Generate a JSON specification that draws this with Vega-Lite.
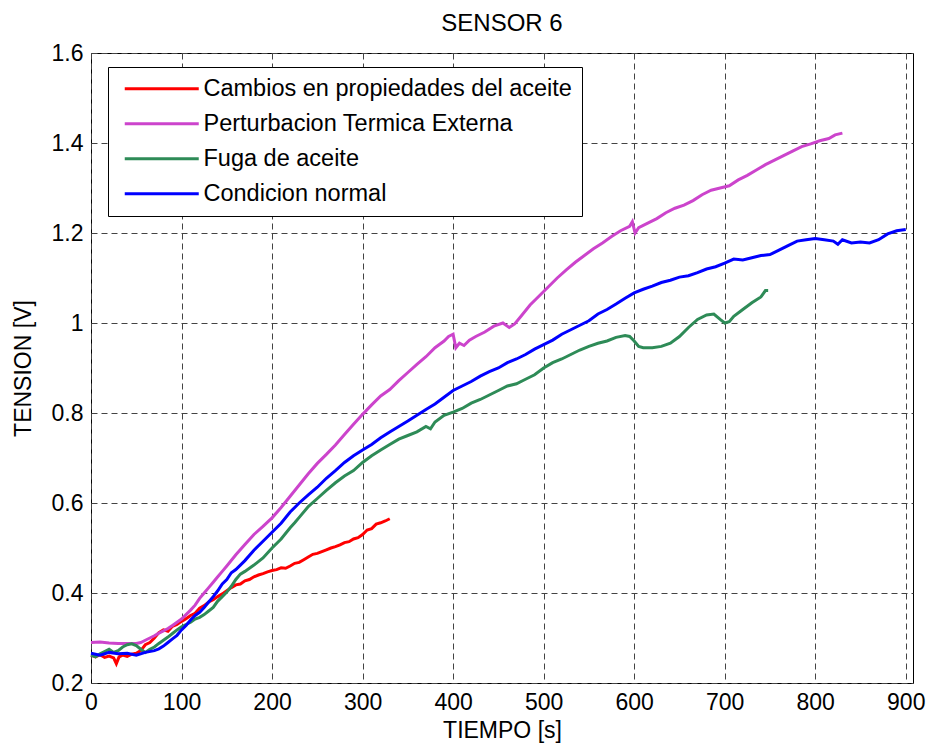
{
  "$schema": "https://vega.github.io/schema/vega-lite/v6.json",
  "width": 822,
  "height": 630,
  "autosize": {"type": "none"},
  "padding": {"left": 91, "top": 53, "right": 17, "bottom": 62},
  "background": "white",
  "config": {
    "font": "Liberation Sans",
    "view": {"stroke": "black", "strokeWidth": 1},
    "axis": {
      "domain": false,
      "ticks": false,
      "grid": true,
      "gridColor": "#444444",
      "gridDash": [6, 4],
      "gridWidth": 1,
      "gridOpacity": 1,
      "labelFont": "Liberation Sans",
      "labelFontSize": 23,
      "labelColor": "black",
      "labelFlush": false,
      "titleFont": "Liberation Sans",
      "titleFontSize": 23,
      "titleFontWeight": "normal",
      "titleColor": "black"
    },
    "title": {"font": "Liberation Sans", "fontSize": 24, "fontWeight": "normal", "color": "black"}
  },
  "title": {"text": "SENSOR 6", "offset": 6},
  "data": {
    "values": [
      {"s": "Cambios en propiedades del aceite", "t": 0, "v": 0.262},
      {"s": "Cambios en propiedades del aceite", "t": 5, "v": 0.258},
      {"s": "Cambios en propiedades del aceite", "t": 10, "v": 0.263},
      {"s": "Cambios en propiedades del aceite", "t": 15, "v": 0.257},
      {"s": "Cambios en propiedades del aceite", "t": 20, "v": 0.26},
      {"s": "Cambios en propiedades del aceite", "t": 25, "v": 0.256},
      {"s": "Cambios en propiedades del aceite", "t": 28, "v": 0.243},
      {"s": "Cambios en propiedades del aceite", "t": 31, "v": 0.258},
      {"s": "Cambios en propiedades del aceite", "t": 35, "v": 0.262},
      {"s": "Cambios en propiedades del aceite", "t": 40, "v": 0.259},
      {"s": "Cambios en propiedades del aceite", "t": 45, "v": 0.264},
      {"s": "Cambios en propiedades del aceite", "t": 50, "v": 0.266},
      {"s": "Cambios en propiedades del aceite", "t": 55, "v": 0.272},
      {"s": "Cambios en propiedades del aceite", "t": 60, "v": 0.285},
      {"s": "Cambios en propiedades del aceite", "t": 65, "v": 0.29},
      {"s": "Cambios en propiedades del aceite", "t": 70, "v": 0.3},
      {"s": "Cambios en propiedades del aceite", "t": 75, "v": 0.312},
      {"s": "Cambios en propiedades del aceite", "t": 80, "v": 0.318},
      {"s": "Cambios en propiedades del aceite", "t": 85, "v": 0.315},
      {"s": "Cambios en propiedades del aceite", "t": 90, "v": 0.326},
      {"s": "Cambios en propiedades del aceite", "t": 95, "v": 0.33},
      {"s": "Cambios en propiedades del aceite", "t": 100, "v": 0.337},
      {"s": "Cambios en propiedades del aceite", "t": 105, "v": 0.343},
      {"s": "Cambios en propiedades del aceite", "t": 110, "v": 0.35},
      {"s": "Cambios en propiedades del aceite", "t": 115, "v": 0.355},
      {"s": "Cambios en propiedades del aceite", "t": 120, "v": 0.366},
      {"s": "Cambios en propiedades del aceite", "t": 125, "v": 0.372},
      {"s": "Cambios en propiedades del aceite", "t": 130, "v": 0.38},
      {"s": "Cambios en propiedades del aceite", "t": 135, "v": 0.385},
      {"s": "Cambios en propiedades del aceite", "t": 140, "v": 0.392},
      {"s": "Cambios en propiedades del aceite", "t": 145, "v": 0.398},
      {"s": "Cambios en propiedades del aceite", "t": 150, "v": 0.405},
      {"s": "Cambios en propiedades del aceite", "t": 155, "v": 0.412},
      {"s": "Cambios en propiedades del aceite", "t": 160, "v": 0.418},
      {"s": "Cambios en propiedades del aceite", "t": 165, "v": 0.42},
      {"s": "Cambios en propiedades del aceite", "t": 170, "v": 0.427},
      {"s": "Cambios en propiedades del aceite", "t": 175, "v": 0.43},
      {"s": "Cambios en propiedades del aceite", "t": 180, "v": 0.436},
      {"s": "Cambios en propiedades del aceite", "t": 185, "v": 0.44},
      {"s": "Cambios en propiedades del aceite", "t": 190, "v": 0.443},
      {"s": "Cambios en propiedades del aceite", "t": 195, "v": 0.447},
      {"s": "Cambios en propiedades del aceite", "t": 200, "v": 0.45},
      {"s": "Cambios en propiedades del aceite", "t": 205, "v": 0.452},
      {"s": "Cambios en propiedades del aceite", "t": 210, "v": 0.456},
      {"s": "Cambios en propiedades del aceite", "t": 215, "v": 0.455},
      {"s": "Cambios en propiedades del aceite", "t": 220, "v": 0.46},
      {"s": "Cambios en propiedades del aceite", "t": 225, "v": 0.466},
      {"s": "Cambios en propiedades del aceite", "t": 230, "v": 0.468},
      {"s": "Cambios en propiedades del aceite", "t": 235, "v": 0.474},
      {"s": "Cambios en propiedades del aceite", "t": 240, "v": 0.48},
      {"s": "Cambios en propiedades del aceite", "t": 245, "v": 0.486},
      {"s": "Cambios en propiedades del aceite", "t": 250, "v": 0.488},
      {"s": "Cambios en propiedades del aceite", "t": 255, "v": 0.492},
      {"s": "Cambios en propiedades del aceite", "t": 260, "v": 0.496},
      {"s": "Cambios en propiedades del aceite", "t": 265, "v": 0.5},
      {"s": "Cambios en propiedades del aceite", "t": 270, "v": 0.503},
      {"s": "Cambios en propiedades del aceite", "t": 275, "v": 0.507},
      {"s": "Cambios en propiedades del aceite", "t": 280, "v": 0.512},
      {"s": "Cambios en propiedades del aceite", "t": 285, "v": 0.514},
      {"s": "Cambios en propiedades del aceite", "t": 290, "v": 0.52},
      {"s": "Cambios en propiedades del aceite", "t": 295, "v": 0.523},
      {"s": "Cambios en propiedades del aceite", "t": 300, "v": 0.53},
      {"s": "Cambios en propiedades del aceite", "t": 305, "v": 0.54},
      {"s": "Cambios en propiedades del aceite", "t": 310, "v": 0.543},
      {"s": "Cambios en propiedades del aceite", "t": 315, "v": 0.553},
      {"s": "Cambios en propiedades del aceite", "t": 320, "v": 0.556},
      {"s": "Cambios en propiedades del aceite", "t": 325, "v": 0.56},
      {"s": "Cambios en propiedades del aceite", "t": 330, "v": 0.565},

      {"s": "Perturbacion Termica Externa", "t": 0, "v": 0.29},
      {"s": "Perturbacion Termica Externa", "t": 10, "v": 0.291},
      {"s": "Perturbacion Termica Externa", "t": 20, "v": 0.289},
      {"s": "Perturbacion Termica Externa", "t": 30, "v": 0.288},
      {"s": "Perturbacion Termica Externa", "t": 40, "v": 0.288},
      {"s": "Perturbacion Termica Externa", "t": 50, "v": 0.288},
      {"s": "Perturbacion Termica Externa", "t": 55, "v": 0.29},
      {"s": "Perturbacion Termica Externa", "t": 60, "v": 0.295},
      {"s": "Perturbacion Termica Externa", "t": 65, "v": 0.3},
      {"s": "Perturbacion Termica Externa", "t": 70, "v": 0.305},
      {"s": "Perturbacion Termica Externa", "t": 75, "v": 0.311},
      {"s": "Perturbacion Termica Externa", "t": 80, "v": 0.316},
      {"s": "Perturbacion Termica Externa", "t": 85, "v": 0.321},
      {"s": "Perturbacion Termica Externa", "t": 90, "v": 0.328},
      {"s": "Perturbacion Termica Externa", "t": 95, "v": 0.335},
      {"s": "Perturbacion Termica Externa", "t": 100, "v": 0.342},
      {"s": "Perturbacion Termica Externa", "t": 105, "v": 0.352},
      {"s": "Perturbacion Termica Externa", "t": 110, "v": 0.362},
      {"s": "Perturbacion Termica Externa", "t": 115, "v": 0.373},
      {"s": "Perturbacion Termica Externa", "t": 120, "v": 0.388},
      {"s": "Perturbacion Termica Externa", "t": 125, "v": 0.4},
      {"s": "Perturbacion Termica Externa", "t": 130, "v": 0.412},
      {"s": "Perturbacion Termica Externa", "t": 135, "v": 0.424},
      {"s": "Perturbacion Termica Externa", "t": 140, "v": 0.436},
      {"s": "Perturbacion Termica Externa", "t": 145, "v": 0.448},
      {"s": "Perturbacion Termica Externa", "t": 150, "v": 0.46},
      {"s": "Perturbacion Termica Externa", "t": 160, "v": 0.485},
      {"s": "Perturbacion Termica Externa", "t": 170, "v": 0.508},
      {"s": "Perturbacion Termica Externa", "t": 180, "v": 0.53},
      {"s": "Perturbacion Termica Externa", "t": 190, "v": 0.548},
      {"s": "Perturbacion Termica Externa", "t": 200, "v": 0.567},
      {"s": "Perturbacion Termica Externa", "t": 210, "v": 0.59},
      {"s": "Perturbacion Termica Externa", "t": 220, "v": 0.615},
      {"s": "Perturbacion Termica Externa", "t": 230, "v": 0.64},
      {"s": "Perturbacion Termica Externa", "t": 240, "v": 0.665},
      {"s": "Perturbacion Termica Externa", "t": 250, "v": 0.688},
      {"s": "Perturbacion Termica Externa", "t": 260, "v": 0.708},
      {"s": "Perturbacion Termica Externa", "t": 270, "v": 0.729},
      {"s": "Perturbacion Termica Externa", "t": 280, "v": 0.752},
      {"s": "Perturbacion Termica Externa", "t": 290, "v": 0.775},
      {"s": "Perturbacion Termica Externa", "t": 300, "v": 0.797},
      {"s": "Perturbacion Termica Externa", "t": 310, "v": 0.818},
      {"s": "Perturbacion Termica Externa", "t": 320, "v": 0.838},
      {"s": "Perturbacion Termica Externa", "t": 330, "v": 0.852},
      {"s": "Perturbacion Termica Externa", "t": 340, "v": 0.872},
      {"s": "Perturbacion Termica Externa", "t": 350, "v": 0.89},
      {"s": "Perturbacion Termica Externa", "t": 360, "v": 0.908},
      {"s": "Perturbacion Termica Externa", "t": 370, "v": 0.925},
      {"s": "Perturbacion Termica Externa", "t": 380, "v": 0.945},
      {"s": "Perturbacion Termica Externa", "t": 390, "v": 0.96},
      {"s": "Perturbacion Termica Externa", "t": 395, "v": 0.97},
      {"s": "Perturbacion Termica Externa", "t": 400, "v": 0.975},
      {"s": "Perturbacion Termica Externa", "t": 403, "v": 0.945},
      {"s": "Perturbacion Termica Externa", "t": 407, "v": 0.955},
      {"s": "Perturbacion Termica Externa", "t": 412, "v": 0.95},
      {"s": "Perturbacion Termica Externa", "t": 418, "v": 0.962},
      {"s": "Perturbacion Termica Externa", "t": 425, "v": 0.97},
      {"s": "Perturbacion Termica Externa", "t": 435, "v": 0.98},
      {"s": "Perturbacion Termica Externa", "t": 445, "v": 0.993},
      {"s": "Perturbacion Termica Externa", "t": 455, "v": 1.0},
      {"s": "Perturbacion Termica Externa", "t": 462, "v": 0.99},
      {"s": "Perturbacion Termica Externa", "t": 468, "v": 0.998},
      {"s": "Perturbacion Termica Externa", "t": 475, "v": 1.015},
      {"s": "Perturbacion Termica Externa", "t": 485, "v": 1.04},
      {"s": "Perturbacion Termica Externa", "t": 495, "v": 1.06},
      {"s": "Perturbacion Termica Externa", "t": 505, "v": 1.08},
      {"s": "Perturbacion Termica Externa", "t": 515, "v": 1.1},
      {"s": "Perturbacion Termica Externa", "t": 525, "v": 1.118},
      {"s": "Perturbacion Termica Externa", "t": 535, "v": 1.135},
      {"s": "Perturbacion Termica Externa", "t": 545, "v": 1.15},
      {"s": "Perturbacion Termica Externa", "t": 555, "v": 1.165},
      {"s": "Perturbacion Termica Externa", "t": 565, "v": 1.178},
      {"s": "Perturbacion Termica Externa", "t": 575, "v": 1.192},
      {"s": "Perturbacion Termica Externa", "t": 585, "v": 1.205},
      {"s": "Perturbacion Termica Externa", "t": 595, "v": 1.215},
      {"s": "Perturbacion Termica Externa", "t": 598, "v": 1.225},
      {"s": "Perturbacion Termica Externa", "t": 601, "v": 1.2},
      {"s": "Perturbacion Termica Externa", "t": 605, "v": 1.212},
      {"s": "Perturbacion Termica Externa", "t": 615, "v": 1.222},
      {"s": "Perturbacion Termica Externa", "t": 625, "v": 1.232},
      {"s": "Perturbacion Termica Externa", "t": 635, "v": 1.245},
      {"s": "Perturbacion Termica Externa", "t": 645, "v": 1.255},
      {"s": "Perturbacion Termica Externa", "t": 655, "v": 1.262},
      {"s": "Perturbacion Termica Externa", "t": 665, "v": 1.272},
      {"s": "Perturbacion Termica Externa", "t": 675, "v": 1.285},
      {"s": "Perturbacion Termica Externa", "t": 685, "v": 1.295},
      {"s": "Perturbacion Termica Externa", "t": 695, "v": 1.3},
      {"s": "Perturbacion Termica Externa", "t": 705, "v": 1.305},
      {"s": "Perturbacion Termica Externa", "t": 715, "v": 1.318},
      {"s": "Perturbacion Termica Externa", "t": 725, "v": 1.328},
      {"s": "Perturbacion Termica Externa", "t": 735, "v": 1.34},
      {"s": "Perturbacion Termica Externa", "t": 745, "v": 1.352},
      {"s": "Perturbacion Termica Externa", "t": 755, "v": 1.362},
      {"s": "Perturbacion Termica Externa", "t": 765, "v": 1.372},
      {"s": "Perturbacion Termica Externa", "t": 775, "v": 1.382},
      {"s": "Perturbacion Termica Externa", "t": 785, "v": 1.392},
      {"s": "Perturbacion Termica Externa", "t": 795, "v": 1.398},
      {"s": "Perturbacion Termica Externa", "t": 805, "v": 1.405},
      {"s": "Perturbacion Termica Externa", "t": 815, "v": 1.41},
      {"s": "Perturbacion Termica Externa", "t": 822, "v": 1.418},
      {"s": "Perturbacion Termica Externa", "t": 830, "v": 1.422},

      {"s": "Fuga de aceite", "t": 0, "v": 0.262},
      {"s": "Fuga de aceite", "t": 5, "v": 0.258},
      {"s": "Fuga de aceite", "t": 10, "v": 0.265},
      {"s": "Fuga de aceite", "t": 15, "v": 0.27},
      {"s": "Fuga de aceite", "t": 20, "v": 0.275},
      {"s": "Fuga de aceite", "t": 25, "v": 0.268},
      {"s": "Fuga de aceite", "t": 30, "v": 0.272},
      {"s": "Fuga de aceite", "t": 35, "v": 0.28},
      {"s": "Fuga de aceite", "t": 40, "v": 0.285},
      {"s": "Fuga de aceite", "t": 45, "v": 0.287},
      {"s": "Fuga de aceite", "t": 50, "v": 0.283},
      {"s": "Fuga de aceite", "t": 55, "v": 0.275},
      {"s": "Fuga de aceite", "t": 60, "v": 0.268},
      {"s": "Fuga de aceite", "t": 65, "v": 0.275},
      {"s": "Fuga de aceite", "t": 70, "v": 0.28},
      {"s": "Fuga de aceite", "t": 75, "v": 0.288},
      {"s": "Fuga de aceite", "t": 80, "v": 0.295},
      {"s": "Fuga de aceite", "t": 85, "v": 0.302},
      {"s": "Fuga de aceite", "t": 90, "v": 0.31},
      {"s": "Fuga de aceite", "t": 95, "v": 0.318},
      {"s": "Fuga de aceite", "t": 100, "v": 0.325},
      {"s": "Fuga de aceite", "t": 105, "v": 0.33},
      {"s": "Fuga de aceite", "t": 110, "v": 0.335},
      {"s": "Fuga de aceite", "t": 115, "v": 0.342},
      {"s": "Fuga de aceite", "t": 120, "v": 0.346},
      {"s": "Fuga de aceite", "t": 125, "v": 0.352},
      {"s": "Fuga de aceite", "t": 130, "v": 0.36},
      {"s": "Fuga de aceite", "t": 135, "v": 0.368},
      {"s": "Fuga de aceite", "t": 140, "v": 0.382},
      {"s": "Fuga de aceite", "t": 145, "v": 0.392},
      {"s": "Fuga de aceite", "t": 150, "v": 0.402},
      {"s": "Fuga de aceite", "t": 155, "v": 0.415},
      {"s": "Fuga de aceite", "t": 160, "v": 0.43},
      {"s": "Fuga de aceite", "t": 165, "v": 0.442},
      {"s": "Fuga de aceite", "t": 170, "v": 0.448},
      {"s": "Fuga de aceite", "t": 175, "v": 0.455},
      {"s": "Fuga de aceite", "t": 180, "v": 0.462},
      {"s": "Fuga de aceite", "t": 190, "v": 0.478},
      {"s": "Fuga de aceite", "t": 200, "v": 0.5},
      {"s": "Fuga de aceite", "t": 210, "v": 0.52},
      {"s": "Fuga de aceite", "t": 220, "v": 0.545},
      {"s": "Fuga de aceite", "t": 225, "v": 0.556},
      {"s": "Fuga de aceite", "t": 230, "v": 0.568},
      {"s": "Fuga de aceite", "t": 240, "v": 0.592},
      {"s": "Fuga de aceite", "t": 250, "v": 0.61},
      {"s": "Fuga de aceite", "t": 260, "v": 0.628},
      {"s": "Fuga de aceite", "t": 270, "v": 0.645},
      {"s": "Fuga de aceite", "t": 280, "v": 0.66},
      {"s": "Fuga de aceite", "t": 290, "v": 0.672},
      {"s": "Fuga de aceite", "t": 300, "v": 0.69},
      {"s": "Fuga de aceite", "t": 310, "v": 0.705},
      {"s": "Fuga de aceite", "t": 320, "v": 0.718},
      {"s": "Fuga de aceite", "t": 330, "v": 0.73},
      {"s": "Fuga de aceite", "t": 340, "v": 0.742},
      {"s": "Fuga de aceite", "t": 350, "v": 0.75},
      {"s": "Fuga de aceite", "t": 360, "v": 0.758},
      {"s": "Fuga de aceite", "t": 370, "v": 0.77},
      {"s": "Fuga de aceite", "t": 375, "v": 0.765},
      {"s": "Fuga de aceite", "t": 380, "v": 0.78},
      {"s": "Fuga de aceite", "t": 390, "v": 0.795},
      {"s": "Fuga de aceite", "t": 400, "v": 0.802},
      {"s": "Fuga de aceite", "t": 410, "v": 0.81},
      {"s": "Fuga de aceite", "t": 420, "v": 0.822},
      {"s": "Fuga de aceite", "t": 430, "v": 0.83},
      {"s": "Fuga de aceite", "t": 440, "v": 0.84},
      {"s": "Fuga de aceite", "t": 450, "v": 0.85},
      {"s": "Fuga de aceite", "t": 460, "v": 0.86},
      {"s": "Fuga de aceite", "t": 470, "v": 0.865},
      {"s": "Fuga de aceite", "t": 480, "v": 0.875},
      {"s": "Fuga de aceite", "t": 490, "v": 0.885},
      {"s": "Fuga de aceite", "t": 500, "v": 0.9},
      {"s": "Fuga de aceite", "t": 510, "v": 0.912},
      {"s": "Fuga de aceite", "t": 520, "v": 0.92},
      {"s": "Fuga de aceite", "t": 530, "v": 0.93},
      {"s": "Fuga de aceite", "t": 540, "v": 0.94},
      {"s": "Fuga de aceite", "t": 550, "v": 0.948},
      {"s": "Fuga de aceite", "t": 560, "v": 0.955},
      {"s": "Fuga de aceite", "t": 570, "v": 0.96},
      {"s": "Fuga de aceite", "t": 580, "v": 0.968},
      {"s": "Fuga de aceite", "t": 590, "v": 0.972},
      {"s": "Fuga de aceite", "t": 595, "v": 0.97},
      {"s": "Fuga de aceite", "t": 600, "v": 0.96},
      {"s": "Fuga de aceite", "t": 605, "v": 0.948},
      {"s": "Fuga de aceite", "t": 610, "v": 0.945},
      {"s": "Fuga de aceite", "t": 620, "v": 0.945},
      {"s": "Fuga de aceite", "t": 630, "v": 0.948},
      {"s": "Fuga de aceite", "t": 640, "v": 0.955},
      {"s": "Fuga de aceite", "t": 650, "v": 0.97},
      {"s": "Fuga de aceite", "t": 660, "v": 0.99},
      {"s": "Fuga de aceite", "t": 670, "v": 1.008},
      {"s": "Fuga de aceite", "t": 680, "v": 1.018},
      {"s": "Fuga de aceite", "t": 688, "v": 1.02},
      {"s": "Fuga de aceite", "t": 695, "v": 1.008},
      {"s": "Fuga de aceite", "t": 700, "v": 1.0},
      {"s": "Fuga de aceite", "t": 705, "v": 1.003},
      {"s": "Fuga de aceite", "t": 710, "v": 1.015},
      {"s": "Fuga de aceite", "t": 720, "v": 1.03},
      {"s": "Fuga de aceite", "t": 730, "v": 1.045},
      {"s": "Fuga de aceite", "t": 740, "v": 1.058},
      {"s": "Fuga de aceite", "t": 745, "v": 1.072},
      {"s": "Fuga de aceite", "t": 748, "v": 1.072},

      {"s": "Condicion normal", "t": 0, "v": 0.266},
      {"s": "Condicion normal", "t": 10, "v": 0.262},
      {"s": "Condicion normal", "t": 20, "v": 0.268},
      {"s": "Condicion normal", "t": 30, "v": 0.265},
      {"s": "Condicion normal", "t": 40, "v": 0.266},
      {"s": "Condicion normal", "t": 50, "v": 0.262},
      {"s": "Condicion normal", "t": 60, "v": 0.268},
      {"s": "Condicion normal", "t": 70, "v": 0.272},
      {"s": "Condicion normal", "t": 75, "v": 0.276},
      {"s": "Condicion normal", "t": 80, "v": 0.282},
      {"s": "Condicion normal", "t": 85, "v": 0.29},
      {"s": "Condicion normal", "t": 90, "v": 0.298},
      {"s": "Condicion normal", "t": 95, "v": 0.306},
      {"s": "Condicion normal", "t": 100, "v": 0.318},
      {"s": "Condicion normal", "t": 105, "v": 0.328},
      {"s": "Condicion normal", "t": 110, "v": 0.34},
      {"s": "Condicion normal", "t": 115, "v": 0.35},
      {"s": "Condicion normal", "t": 120, "v": 0.357},
      {"s": "Condicion normal", "t": 125, "v": 0.368},
      {"s": "Condicion normal", "t": 130, "v": 0.38},
      {"s": "Condicion normal", "t": 135, "v": 0.392},
      {"s": "Condicion normal", "t": 140, "v": 0.405},
      {"s": "Condicion normal", "t": 145, "v": 0.42},
      {"s": "Condicion normal", "t": 150, "v": 0.43},
      {"s": "Condicion normal", "t": 155, "v": 0.445},
      {"s": "Condicion normal", "t": 160, "v": 0.452},
      {"s": "Condicion normal", "t": 165, "v": 0.462},
      {"s": "Condicion normal", "t": 170, "v": 0.472},
      {"s": "Condicion normal", "t": 180, "v": 0.495},
      {"s": "Condicion normal", "t": 190, "v": 0.515},
      {"s": "Condicion normal", "t": 200, "v": 0.535},
      {"s": "Condicion normal", "t": 210, "v": 0.555},
      {"s": "Condicion normal", "t": 220, "v": 0.58},
      {"s": "Condicion normal", "t": 230, "v": 0.6},
      {"s": "Condicion normal", "t": 240, "v": 0.618},
      {"s": "Condicion normal", "t": 250, "v": 0.635},
      {"s": "Condicion normal", "t": 260, "v": 0.655},
      {"s": "Condicion normal", "t": 270, "v": 0.672},
      {"s": "Condicion normal", "t": 280, "v": 0.69},
      {"s": "Condicion normal", "t": 290, "v": 0.705},
      {"s": "Condicion normal", "t": 300, "v": 0.718},
      {"s": "Condicion normal", "t": 310, "v": 0.73},
      {"s": "Condicion normal", "t": 320, "v": 0.745},
      {"s": "Condicion normal", "t": 330, "v": 0.758},
      {"s": "Condicion normal", "t": 340, "v": 0.77},
      {"s": "Condicion normal", "t": 350, "v": 0.782},
      {"s": "Condicion normal", "t": 360, "v": 0.795},
      {"s": "Condicion normal", "t": 370, "v": 0.808},
      {"s": "Condicion normal", "t": 380, "v": 0.82},
      {"s": "Condicion normal", "t": 390, "v": 0.835},
      {"s": "Condicion normal", "t": 400, "v": 0.85},
      {"s": "Condicion normal", "t": 410, "v": 0.86},
      {"s": "Condicion normal", "t": 420, "v": 0.87},
      {"s": "Condicion normal", "t": 430, "v": 0.882},
      {"s": "Condicion normal", "t": 440, "v": 0.892},
      {"s": "Condicion normal", "t": 450, "v": 0.9},
      {"s": "Condicion normal", "t": 460, "v": 0.912},
      {"s": "Condicion normal", "t": 470, "v": 0.92},
      {"s": "Condicion normal", "t": 480, "v": 0.93},
      {"s": "Condicion normal", "t": 490, "v": 0.942},
      {"s": "Condicion normal", "t": 500, "v": 0.952},
      {"s": "Condicion normal", "t": 510, "v": 0.962},
      {"s": "Condicion normal", "t": 520, "v": 0.975},
      {"s": "Condicion normal", "t": 530, "v": 0.985},
      {"s": "Condicion normal", "t": 540, "v": 0.995},
      {"s": "Condicion normal", "t": 550, "v": 1.005},
      {"s": "Condicion normal", "t": 560, "v": 1.02},
      {"s": "Condicion normal", "t": 570, "v": 1.03},
      {"s": "Condicion normal", "t": 580, "v": 1.042},
      {"s": "Condicion normal", "t": 590, "v": 1.055},
      {"s": "Condicion normal", "t": 600, "v": 1.067},
      {"s": "Condicion normal", "t": 610, "v": 1.075},
      {"s": "Condicion normal", "t": 620, "v": 1.082},
      {"s": "Condicion normal", "t": 630, "v": 1.09},
      {"s": "Condicion normal", "t": 640, "v": 1.095},
      {"s": "Condicion normal", "t": 650, "v": 1.102},
      {"s": "Condicion normal", "t": 660, "v": 1.105},
      {"s": "Condicion normal", "t": 670, "v": 1.112},
      {"s": "Condicion normal", "t": 680, "v": 1.12},
      {"s": "Condicion normal", "t": 690, "v": 1.125},
      {"s": "Condicion normal", "t": 700, "v": 1.133},
      {"s": "Condicion normal", "t": 710, "v": 1.142},
      {"s": "Condicion normal", "t": 720, "v": 1.14},
      {"s": "Condicion normal", "t": 730, "v": 1.145},
      {"s": "Condicion normal", "t": 740, "v": 1.15},
      {"s": "Condicion normal", "t": 750, "v": 1.152},
      {"s": "Condicion normal", "t": 760, "v": 1.162},
      {"s": "Condicion normal", "t": 770, "v": 1.172},
      {"s": "Condicion normal", "t": 780, "v": 1.182},
      {"s": "Condicion normal", "t": 790, "v": 1.185},
      {"s": "Condicion normal", "t": 800, "v": 1.188},
      {"s": "Condicion normal", "t": 810, "v": 1.185},
      {"s": "Condicion normal", "t": 820, "v": 1.182},
      {"s": "Condicion normal", "t": 825, "v": 1.175},
      {"s": "Condicion normal", "t": 830, "v": 1.185},
      {"s": "Condicion normal", "t": 840, "v": 1.178},
      {"s": "Condicion normal", "t": 850, "v": 1.18},
      {"s": "Condicion normal", "t": 860, "v": 1.178},
      {"s": "Condicion normal", "t": 870, "v": 1.185},
      {"s": "Condicion normal", "t": 880, "v": 1.198},
      {"s": "Condicion normal", "t": 890, "v": 1.205},
      {"s": "Condicion normal", "t": 900, "v": 1.208}
    ]
  },
  "mark": {"type": "line", "strokeWidth": 3, "interpolate": "linear"},
  "encoding": {
    "x": {
      "field": "t",
      "type": "quantitative",
      "scale": {"domain": [0, 908], "nice": false, "zero": false},
      "axis": {"title": "TIEMPO [s]", "values": [0, 100, 200, 300, 400, 500, 600, 700, 800, 900], "labelPadding": 8, "titlePadding": 5}
    },
    "y": {
      "field": "v",
      "type": "quantitative",
      "scale": {"domain": [0.2, 1.6], "nice": false, "zero": false},
      "axis": {"title": "TENSION [V]", "values": [0.2, 0.4, 0.6, 0.8, 1.0, 1.2, 1.4, 1.6], "format": "~g", "labelPadding": 8, "titlePadding": 16}
    },
    "color": {
      "field": "s",
      "type": "nominal",
      "sort": ["Cambios en propiedades del aceite", "Perturbacion Termica Externa", "Fuga de aceite", "Condicion normal"],
      "scale": {
        "domain": ["Cambios en propiedades del aceite", "Perturbacion Termica Externa", "Fuga de aceite", "Condicion normal"],
        "range": ["#ff0000", "#cc44cc", "#2e8b57", "#0000ff"]
      },
      "legend": {
        "title": null,
        "orient": "none",
        "legendX": 17,
        "legendY": 14,
        "fillColor": "white",
        "strokeColor": "black",
        "padding": 10,
        "symbolType": "M-0.5,0H6.9",
        "symbolSize": 400,
        "symbolStrokeWidth": 3,
        "labelFontSize": 23.5,
        "labelFont": "Liberation Sans",
        "labelColor": "black",
        "labelOffset": 62,
        "labelLimit": 600,
        "rowPadding": 10
      }
    }
  }
}
